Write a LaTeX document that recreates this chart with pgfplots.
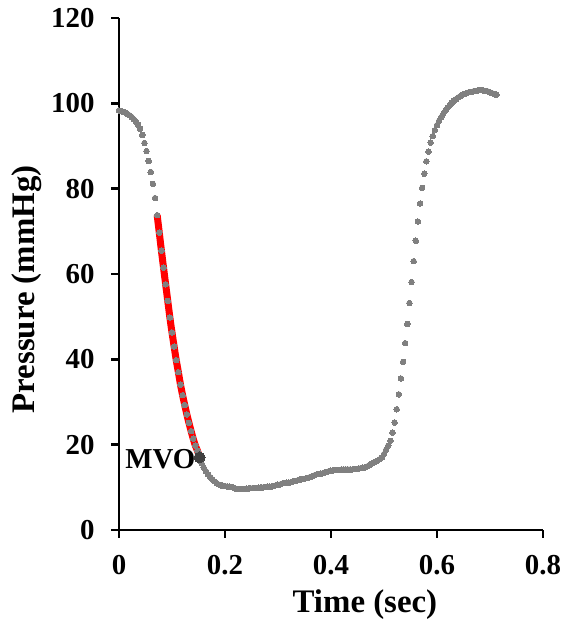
\documentclass[border=0pt]{standalone}
\usepackage{fontspec}
\setmainfont{Liberation Serif}
\usepackage{pgfplots}
\pgfplotsset{compat=1.18}
\usepackage{pgfplotstable}
\definecolor{dotgray}{HTML}{808080}
\definecolor{mvogray}{HTML}{404040}
\pgfplotstableread{
t p
0.000 98.3
0.004 98.2
0.008 98.0
0.012 97.8
0.016 97.5
0.020 97.2
0.024 96.8
0.028 96.3
0.032 95.7
0.036 95.0
0.040 94.0
0.044 92.6
0.048 90.7
0.052 88.8
0.056 86.5
0.060 83.9
0.064 81.1
0.068 77.8
0.072 73.8
0.076 69.7
0.080 65.5
0.084 61.5
0.088 57.6
0.092 53.7
0.096 49.8
0.100 46.3
0.104 43.0
0.108 39.8
0.112 37.0
0.116 34.1
0.120 31.6
0.124 29.3
0.128 27.1
0.132 25.1
0.136 23.2
0.140 21.4
0.144 19.8
0.148 18.6
0.152 17.0
0.156 15.6
0.160 14.6
0.164 13.8
0.168 13.0
0.172 12.4
0.176 11.9
0.180 11.4
0.184 11.0
0.188 10.7
0.192 10.5
0.196 10.4
0.200 10.3
0.204 10.2
0.208 10.2
0.212 10.1
0.216 9.9
0.220 9.7
0.224 9.6
0.228 9.6
0.232 9.6
0.236 9.6
0.240 9.7
0.244 9.7
0.248 9.8
0.252 9.8
0.256 9.8
0.260 9.8
0.264 9.9
0.268 10.0
0.272 10.0
0.276 10.1
0.280 10.2
0.284 10.2
0.288 10.2
0.292 10.3
0.296 10.5
0.300 10.6
0.304 10.7
0.308 10.9
0.312 11.0
0.316 11.1
0.320 11.1
0.324 11.2
0.328 11.4
0.332 11.5
0.336 11.6
0.340 11.8
0.344 11.9
0.348 12.0
0.352 12.1
0.356 12.2
0.360 12.4
0.364 12.6
0.368 12.8
0.372 13.0
0.376 13.1
0.380 13.2
0.384 13.3
0.388 13.5
0.392 13.6
0.396 13.8
0.400 13.9
0.404 14.0
0.408 14.1
0.412 14.1
0.416 14.1
0.420 14.2
0.424 14.2
0.428 14.2
0.432 14.2
0.436 14.2
0.440 14.2
0.444 14.3
0.448 14.3
0.452 14.4
0.456 14.5
0.460 14.6
0.464 14.7
0.468 14.9
0.472 15.2
0.476 15.5
0.480 15.8
0.484 16.0
0.488 16.3
0.492 16.6
0.496 17.0
0.500 17.8
0.504 18.8
0.508 19.8
0.512 20.9
0.516 22.8
0.520 25.2
0.524 28.3
0.528 31.8
0.532 35.5
0.536 39.4
0.540 43.8
0.544 48.3
0.548 53.2
0.552 58.1
0.556 63.0
0.560 67.8
0.564 72.3
0.568 76.5
0.572 80.2
0.576 83.5
0.580 86.4
0.584 88.7
0.588 90.8
0.592 92.3
0.596 93.7
0.600 94.9
0.604 95.9
0.608 96.8
0.612 97.6
0.616 98.3
0.620 99.0
0.624 99.6
0.628 100.1
0.632 100.6
0.636 101.0
0.640 101.4
0.644 101.7
0.648 102.0
0.652 102.2
0.656 102.4
0.660 102.6
0.664 102.7
0.668 102.8
0.672 102.9
0.676 103.0
0.680 103.1
0.684 103.1
0.688 103.0
0.692 102.9
0.696 102.8
0.700 102.6
0.704 102.4
0.708 102.2
0.712 102.0
}\pressure
\pgfplotstableread{
t p
0.072 73.8
0.076 69.7
0.080 65.5
0.084 61.5
0.088 57.6
0.092 53.7
0.096 49.8
0.100 46.3
0.104 43.0
0.108 39.8
0.112 37.0
0.116 34.1
0.120 31.6
0.124 29.3
0.128 27.1
0.132 25.1
0.136 23.2
0.140 21.4
0.144 19.8
0.148 18.6
0.152 17.0
}\fit
\begin{document}
\begin{tikzpicture}
\useasboundingbox (-119bp,-95bp) rectangle (446bp,530bp);
\begin{axis}[
  at={(0,0)}, anchor=south west,
  scale only axis, width=424bp, height=512bp,
  xmin=0, xmax=0.8, ymin=0, ymax=120,
  axis x line*=bottom, axis y line*=left,
  axis line style={-, line width=2.6pt, black},
  xtick={0,0.2,0.4,0.6,0.8},
  xticklabels={0,0.2,0.4,0.6,0.8},
  ytick={0,20,40,60,80,100,120},
  yticklabels={0,20,40,60,80,100,120},
  tick align=outside,
  major tick length=8pt,
  tick style={line width=2.6pt, black},
  ticklabel style={font=\fontsize{29}{29}\selectfont\bfseries},
  xticklabel style={yshift=-14bp},
  yticklabel style={xshift=-13bp},
  xlabel={Time (sec)},
  ylabel={Pressure (mmHg)},
  label style={font=\fontsize{33}{33}\selectfont\bfseries},
  xlabel style={at={(axis description cs:0.58,0)}, anchor=center, yshift=-75bp},
  ylabel style={at={(axis description cs:-0.217,0.47)}, anchor=center},
  clip=false,
]
\addplot[red, line width=7bp, smooth] table[x=t, y=p] {\fit};
\addplot[dotgray, only marks, mark=*, mark size=2.8bp, mark options={draw=dotgray, fill=dotgray, line width=0pt}] table[x=t, y=p] {\pressure};
\addplot[mvogray, only marks, mark=*, mark size=5.5bp, mark options={draw=mvogray, fill=mvogray, line width=0pt}] coordinates {(0.152,17.0)};
\node[anchor=east, inner sep=0pt, font=\fontsize{29}{29}\selectfont\bfseries, xshift=-4bp, yshift=-2bp] at (axis cs:0.152,17.0) {MVO};
\end{axis}
\end{tikzpicture}
\end{document}
